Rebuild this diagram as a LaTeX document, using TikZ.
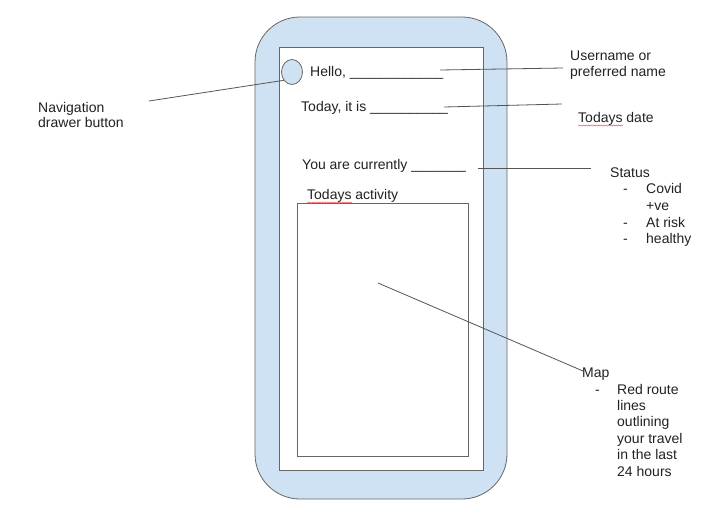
\documentclass[tikz,border=0pt]{standalone}
\usepackage{fontspec}
\setmainfont{Liberation Sans}
\usetikzlibrary{shapes.geometric,decorations.pathmorphing}
\definecolor{phoneblue}{HTML}{CFE2F3}
\definecolor{edgegray}{HTML}{666666}
\definecolor{linegray}{HTML}{555555}
\definecolor{txt}{HTML}{222222}
\begin{document}
\begin{tikzpicture}[x=1pt,y=-1pt,
  lbl/.style={anchor=base west,inner sep=0pt,font=\fontsize{14}{16}\selectfont,text=txt},
  conn/.style={draw=linegray,line width=0.8pt},
  spell/.style={draw=red!70,line width=0.5pt,decorate,decoration={snake,amplitude=0.5pt,segment length=2.5pt}}]
\useasboundingbox (0,0) rectangle (705,512);
\fill[white] (0,0) rectangle (705,512);
% phone
\draw[draw=edgegray,fill=phoneblue,line width=0.8pt,rounded corners=45pt] (255,17) rectangle (507,499);
\node[draw=edgegray,fill=white,line width=0.8pt,inner sep=0pt,anchor=north west,minimum width=204pt,minimum height=423pt] (screen) at (279,47) {};
\node[draw=edgegray,fill=white,line width=0.7pt,inner sep=0pt,anchor=north west,minimum width=171pt,minimum height=253pt] (map) at (297,203) {};
\node[ellipse,draw=edgegray,fill=phoneblue,line width=0.8pt,inner sep=0pt,minimum width=21pt,minimum height=25pt] (nav) at (292,72) {};
% screen texts
\node[lbl] (hello) at (310,76) {Hello, \_\_\_\_\_\_\_\_\_\_\_\_};
\node[lbl] (today) at (301,111) {Today, it is \_\_\_\_\_\_\_\_\_\_};
\node[lbl] (status) at (302,169) {You are currently \_\_\_\_\_\_\_};
\node[lbl] (activity) at (307,199) {Todays activity};
\draw[spell] (307,202.5) -- (352,202.5);
% labels
\node[lbl] (nav1) at (38,112) {Navigation};
\node[lbl] (nav2) at (38,127) {drawer button};
\node[lbl] (user1) at (570,60) {Username or};
\node[lbl] (user2) at (570,76) {preferred name};
\node[lbl] (date) at (578,122) {Todays date};
\draw[spell] (578,125.5) -- (623,125.5);
\node[lbl] (st) at (610,177) {Status};
\node[lbl] at (623,193) {-};
\node[lbl] (st1) at (646,193) {Covid};
\node[lbl] (st1b) at (646,210) {+ve};
\node[lbl] at (623,227) {-};
\node[lbl] (st2) at (646,227) {At risk};
\node[lbl] at (623,243) {-};
\node[lbl] (st3) at (646,243) {healthy};
\node[lbl] (maplbl) at (582,377) {Map};
\node[lbl] at (595,394) {-};
\node[lbl] (m1) at (617,394) {Red route};
\node[lbl] (m2) at (617,410) {lines};
\node[lbl] (m3) at (617,426) {outlining};
\node[lbl] (m4) at (617,443) {your travel};
\node[lbl] (m5) at (617,459) {in the last};
\node[lbl] (m6) at (617,476) {24 hours};
% connectors
\coordinate (navend) at (149,101);
\coordinate (helloend) at (440,70);
\coordinate (userend) at (563,68);
\coordinate (todayend) at (444,107);
\coordinate (dateend) at (562,104);
\coordinate (statusstart) at (478,168);
\coordinate (statusend) at (591,168);
\coordinate (mapstart) at (378,283);
\coordinate (mapend) at (583,371);
\draw[conn] (navend) -- (nav.225);
\draw[conn] (helloend) -- (userend);
\draw[conn] (todayend) -- (dateend);
\draw[conn] (statusstart) -- (statusend);
\draw[conn] (mapstart) -- (mapend);
\end{tikzpicture}
\end{document}
